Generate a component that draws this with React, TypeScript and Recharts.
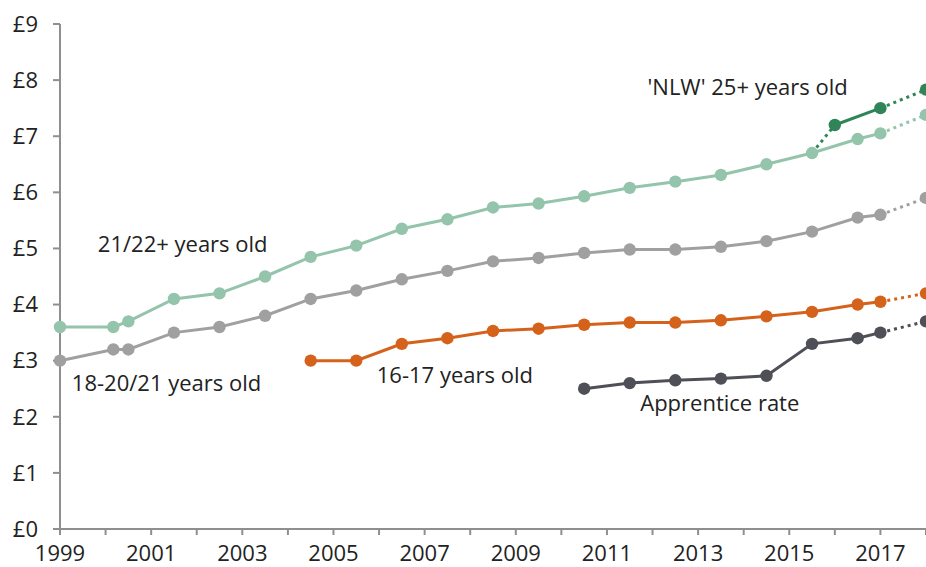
import React from "react";
import { LineChart, Line, XAxis, YAxis, ReferenceDot } from "recharts";

// Uprating dates (years since April 1999, expressed as decimal years)
const dates = [
  1999, 2000.17, 2000.5, 2001.5, 2002.5, 2003.5, 2004.5, 2005.5, 2006.5, 2007.5,
  2008.5, 2009.5, 2010.5, 2011.5, 2012.5, 2013.5, 2014.5, 2015.5, 2016.5, 2017,
];

// Hourly rates (£) for each band at the dates above
const adultRate = [
  3.6, 3.6, 3.7, 4.1, 4.2, 4.5, 4.85, 5.05, 5.35, 5.52,
  5.73, 5.8, 5.93, 6.08, 6.19, 6.31, 6.5, 6.7, 6.95, 7.05,
];
const developmentRate = [
  3.0, 3.2, 3.2, 3.5, 3.6, 3.8, 4.1, 4.25, 4.45, 4.6,
  4.77, 4.83, 4.92, 4.98, 4.98, 5.03, 5.13, 5.3, 5.55, 5.6,
];
const youthRate = [
  null, null, null, null, null, null, 3.0, 3.0, 3.3, 3.4,
  3.53, 3.57, 3.64, 3.68, 3.68, 3.72, 3.79, 3.87, 4.0, 4.05,
];
const apprenticeRate = [
  null, null, null, null, null, null, null, null, null, null,
  null, null, 2.5, 2.6, 2.65, 2.68, 2.73, 3.3, 3.4, 3.5,
];

// National Living Wage
const nlwDates = [2016, 2017];
const nlwRate = [7.2, 7.5];

// Announced rates for April 2018
const projectedDate = 2018;
const projectedAdult = 7.38;
const projectedDevelopment = 5.9;
const projectedYouth = 4.2;
const projectedApprentice = 3.7;
const projectedNlw = 7.83;

const yearTicks = [
  1999, 2000, 2001, 2002, 2003, 2004, 2005, 2006, 2007, 2008,
  2009, 2010, 2011, 2012, 2013, 2014, 2015, 2016, 2017, 2018,
];
const poundTicks = [0, 1, 2, 3, 4, 5, 6, 7, 8, 9];

// Series captions, anchored in chart coordinates (year, £)
const captions = [
  { text: "21/22+ years old", year: 1999.83, value: 4.94 },
  { text: "18-20/21 years old", year: 1999.26, value: 2.46 },
  { text: "16-17 years old", year: 2005.95, value: 2.6 },
  { text: "Apprentice rate", year: 2011.73, value: 2.1 },
  { text: "'NLW' 25+ years old", year: 2011.89, value: 7.73 },
];

const COLORS = {
  adult: "#94c4ab",
  development: "#a0a0a0",
  youth: "#d4621b",
  apprentice: "#4e4f57",
  nlw: "#2f8558",
};

const FONT = "'Open Sans', 'Noto Sans', sans-serif";

type Pt = { x: number; y: number | null };

const toPoints = (xs: number[], ys: (number | null)[]): Pt[] =>
  xs.map((x, i) => ({ x, y: ys[i] })).filter((p) => p.y !== null);

const adultData = toPoints(dates, adultRate);
const developmentData = toPoints(dates, developmentRate);
const youthData = toPoints(dates, youthRate);
const apprenticeData = toPoints(dates, apprenticeRate);
const nlwData = toPoints(nlwDates, nlwRate);

const lastOf = (d: Pt[]) => d[d.length - 1];

const projection = (d: Pt[], value: number): Pt[] => [lastOf(d), { x: projectedDate, y: value }];

const adultProj = projection(adultData, projectedAdult);
const developmentProj = projection(developmentData, projectedDevelopment);
const youthProj = projection(youthData, projectedYouth);
const apprenticeProj = projection(apprenticeData, projectedApprentice);
const nlwProj = projection(nlwData, projectedNlw);
// dotted link from the last 21+ rate before the NLW into the first NLW rate
const nlwLink: Pt[] = [adultData[adultData.length - 3], nlwData[0]];

const DOT_R = 6.2;

const endDot = (color: string) => (props: any) => {
  const { cx, cy, index } = props;
  if (index !== 1 || cx == null || cy == null) return <g key={`e-${index}`} />;
  return <circle key={`e-${index}`} cx={cx} cy={cy} r={DOT_R} fill={color} />;
};

const DOTTED = "3 4";

export default function App() {
  return (
    <div style={{ position: "absolute", left: 0, top: 0, width: 926, height: 567, overflow: "hidden", background: "#fff" }}>
      <LineChart width={926} height={567} margin={{ top: 24, right: 0, left: 0, bottom: 0 }}>
        <XAxis
          type="number"
          dataKey="x"
          domain={[1999, 2018]}
          ticks={yearTicks}
          interval={0}
          allowDecimals={false}
          tickFormatter={(v: number) => (v % 2 === 1 ? String(v) : "")}
          height={38}
          tickSize={6}
          tickMargin={10}
          axisLine={{ stroke: "#8f8f8f", strokeWidth: 2 }}
          tickLine={{ stroke: "#8f8f8f", strokeWidth: 2 }}
          tick={{ fill: "#222", fontSize: 22, fontFamily: FONT }}
        />
        <YAxis
          type="number"
          domain={[0, 9]}
          ticks={poundTicks}
          interval={0}
          width={60}
          tickSize={7}
          tickMargin={15}
          tickFormatter={(v: number) => `£${v}`}
          axisLine={{ stroke: "#8f8f8f", strokeWidth: 2 }}
          tickLine={{ stroke: "#8f8f8f", strokeWidth: 2 }}
          tick={{ fill: "#222", fontSize: 22, fontFamily: FONT }}
        />

        {/* projected April 2018 rates */}
        <Line data={adultProj} dataKey="y" stroke={COLORS.adult} strokeWidth={3} strokeDasharray={DOTTED} dot={endDot(COLORS.adult)} activeDot={false} isAnimationActive={false} />
        <Line data={developmentProj} dataKey="y" stroke={COLORS.development} strokeWidth={3} strokeDasharray={DOTTED} dot={endDot(COLORS.development)} activeDot={false} isAnimationActive={false} />
        <Line data={youthProj} dataKey="y" stroke={COLORS.youth} strokeWidth={3} strokeDasharray={DOTTED} dot={endDot(COLORS.youth)} activeDot={false} isAnimationActive={false} />
        <Line data={apprenticeProj} dataKey="y" stroke={COLORS.apprentice} strokeWidth={3} strokeDasharray={DOTTED} dot={endDot(COLORS.apprentice)} activeDot={false} isAnimationActive={false} />
        <Line data={nlwProj} dataKey="y" stroke={COLORS.nlw} strokeWidth={3} strokeDasharray={DOTTED} dot={endDot(COLORS.nlw)} activeDot={false} isAnimationActive={false} />
        <Line data={nlwLink} dataKey="y" stroke={COLORS.nlw} strokeWidth={3} strokeDasharray={DOTTED} dot={false} activeDot={false} isAnimationActive={false} />

        {/* actual rates */}
        <Line data={developmentData} dataKey="y" stroke={COLORS.development} strokeWidth={3} dot={{ r: DOT_R, fill: COLORS.development, stroke: "none" }} activeDot={false} isAnimationActive={false} />
        <Line data={adultData} dataKey="y" stroke={COLORS.adult} strokeWidth={3} dot={{ r: DOT_R, fill: COLORS.adult, stroke: "none" }} activeDot={false} isAnimationActive={false} />
        <Line data={youthData} dataKey="y" stroke={COLORS.youth} strokeWidth={3} dot={{ r: DOT_R, fill: COLORS.youth, stroke: "none" }} activeDot={false} isAnimationActive={false} />
        <Line data={apprenticeData} dataKey="y" stroke={COLORS.apprentice} strokeWidth={3} dot={{ r: DOT_R, fill: COLORS.apprentice, stroke: "none" }} activeDot={false} isAnimationActive={false} />
        <Line data={nlwData} dataKey="y" stroke={COLORS.nlw} strokeWidth={3} dot={{ r: DOT_R, fill: COLORS.nlw, stroke: "none" }} activeDot={false} isAnimationActive={false} />

        {captions.map((c) => (
          <ReferenceDot
            key={c.text}
            x={c.year}
            y={c.value}
            r={0}
            ifOverflow="visible"
            shape={(p: any) => (
              <text x={p.cx} y={p.cy} fill="#222" fontSize={22} fontFamily={FONT} textAnchor="start">
                {c.text}
              </text>
            )}
          />
        ))}
      </LineChart>
    </div>
  );
}
